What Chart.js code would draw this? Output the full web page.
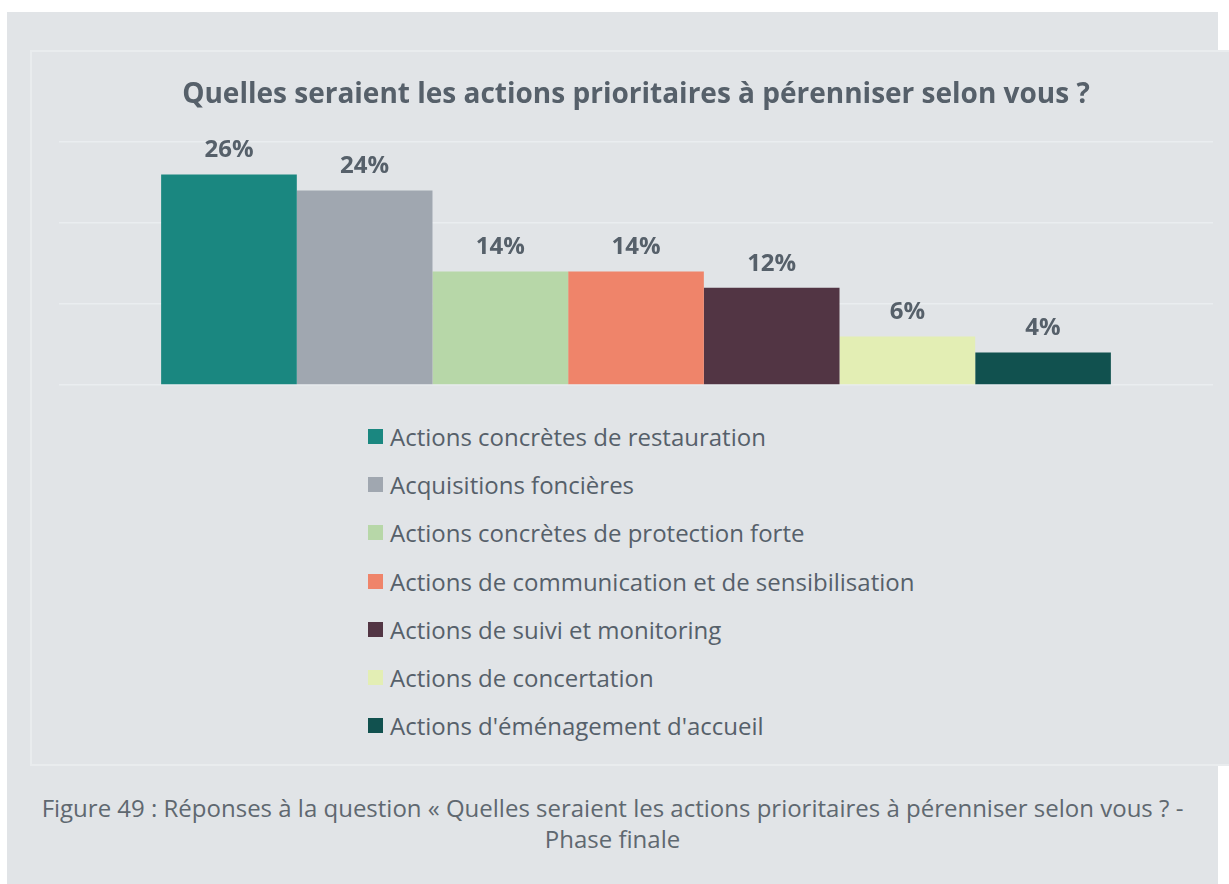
<!DOCTYPE html>
<html lang="fr">
<head>
<meta charset="utf-8">
<title>Actions prioritaires à pérenniser</title>
<script src="https://cdn.jsdelivr.net/npm/chart.js@4.4.1/dist/chart.umd.min.js"></script>
<style>
  html, body {
    margin: 0;
    padding: 0;
    background: #ffffff;
    width: 1229px;
    height: 884px;
    overflow: hidden;
    font-family: "Open Sans", sans-serif;
  }
  #panel {
    position: absolute;
    left: 7px;
    top: 12px;
    width: 1211px;
    height: 872px;
    background: #e1e4e7;
  }
  #box {
    position: absolute;
    left: 30px;
    top: 50px;
    width: 1215px;
    height: 712px;
    background: #e1e4e7;
    border: 2px solid #e9ecee;
  }
  #chartWrap {
    position: absolute;
    left: 30px;
    top: 50px;
    width: 1199px;
    height: 350px;
  }
  #legend {
    position: absolute;
    left: 368px;
    top: 412px;
    margin: 0;
    padding: 0;
    list-style: none;
  }
  #legend li {
    display: flex;
    align-items: center;
    height: 48.3px;
    font-size: 24px;
    color: #56606a;
    white-space: nowrap;
  }
  #legend .swatch {
    display: inline-block;
    width: 15px;
    height: 15px;
    margin-right: 7px;
  }
  #caption {
    position: absolute;
    left: 7px;
    top: 792px;
    width: 1211px;
    text-align: center;
    font-size: 24px;
    line-height: 31px;
    color: #5f6870;
  }
</style>
</head>
<body>
<div id="panel"></div>
<div id="box"></div>
<div id="chartWrap"><canvas id="actionsChart"></canvas></div>
<ul id="legend"></ul>
<div id="caption">Figure 49 : Réponses à la question « Quelles seraient les actions prioritaires à pérenniser selon vous ? -<br>Phase finale</div>

<script>
// one group, one bar per answer
const groupLabels = ["Phase finale"];
const actions = [
  "Actions concrètes de restauration",
  "Acquisitions foncières",
  "Actions concrètes de protection forte",
  "Actions de communication et de sensibilisation",
  "Actions de suivi et monitoring",
  "Actions de concertation",
  "Actions d'éménagement d'accueil",
];
const shares = [26, 24, 14, 14, 12, 6, 4];
const barColors = [
  "#1a8780",
  "#a0a7b0",
  "#b7d7a8",
  "#ef846a",
  "#523544",
  "#e3eeb4",
  "#11514f",
];

const textColor = "#56606a";

// percentage written above each bar
const valueLabels = {
  id: "valueLabels",
  afterDatasetsDraw(chart) {
    const ctx = chart.ctx;
    ctx.save();
    ctx.font = "bold 24px 'Open Sans'";
    ctx.fillStyle = textColor;
    ctx.textAlign = "center";
    ctx.textBaseline = "middle";
    chart.data.datasets.forEach((ds, i) => {
      const meta = chart.getDatasetMeta(i);
      meta.data.forEach((bar, j) => {
        ctx.fillText(ds.data[j] + "%", bar.x, bar.y - 24);
      });
    });
    ctx.restore();
  },
};

// legend as a vertical list under the chart
const htmlLegend = {
  id: "htmlLegend",
  afterUpdate(chart) {
    const list = document.getElementById("legend");
    list.innerHTML = "";
    chart.legend.legendItems.forEach((item) => {
      const li = document.createElement("li");
      const box = document.createElement("span");
      box.className = "swatch";
      box.style.background = item.fillStyle;
      li.appendChild(box);
      li.appendChild(document.createTextNode(item.text));
      list.appendChild(li);
    });
  },
};

const ctx = document.getElementById("actionsChart").getContext("2d");
const actionsChart = new Chart(ctx, {
  type: "bar",
  data: {
    labels: groupLabels,
    datasets: actions.map((name, i) => ({
      label: name,
      data: [shares[i]],
      backgroundColor: barColors[i],
      borderWidth: 0,
      categoryPercentage: 0.823,
      barPercentage: 1.0,
    })),
  },
  options: {
    responsive: true,
    maintainAspectRatio: false,
    animation: false,
    layout: {
      padding: { left: 29, right: 16, top: 0, bottom: 15 },
    },
    scales: {
      x: { display: false },
      y: {
        min: 0,
        max: 30,
        ticks: { display: false, stepSize: 10 },
        border: { display: false },
        grid: { color: "#eaedf0", lineWidth: 1.5, drawTicks: false },
      },
    },
    plugins: {
      legend: { display: false },
      tooltip: { enabled: false },
      title: {
        display: true,
        text: "Quelles seraient les actions prioritaires à pérenniser selon vous ?",
        color: textColor,
        font: { family: "'Open Sans'", size: 28, weight: "bold" },
        padding: { top: 28, bottom: 30.4 },
      },
    },
  },
  plugins: [valueLabels, htmlLegend],
});
</script>
</body>
</html>
